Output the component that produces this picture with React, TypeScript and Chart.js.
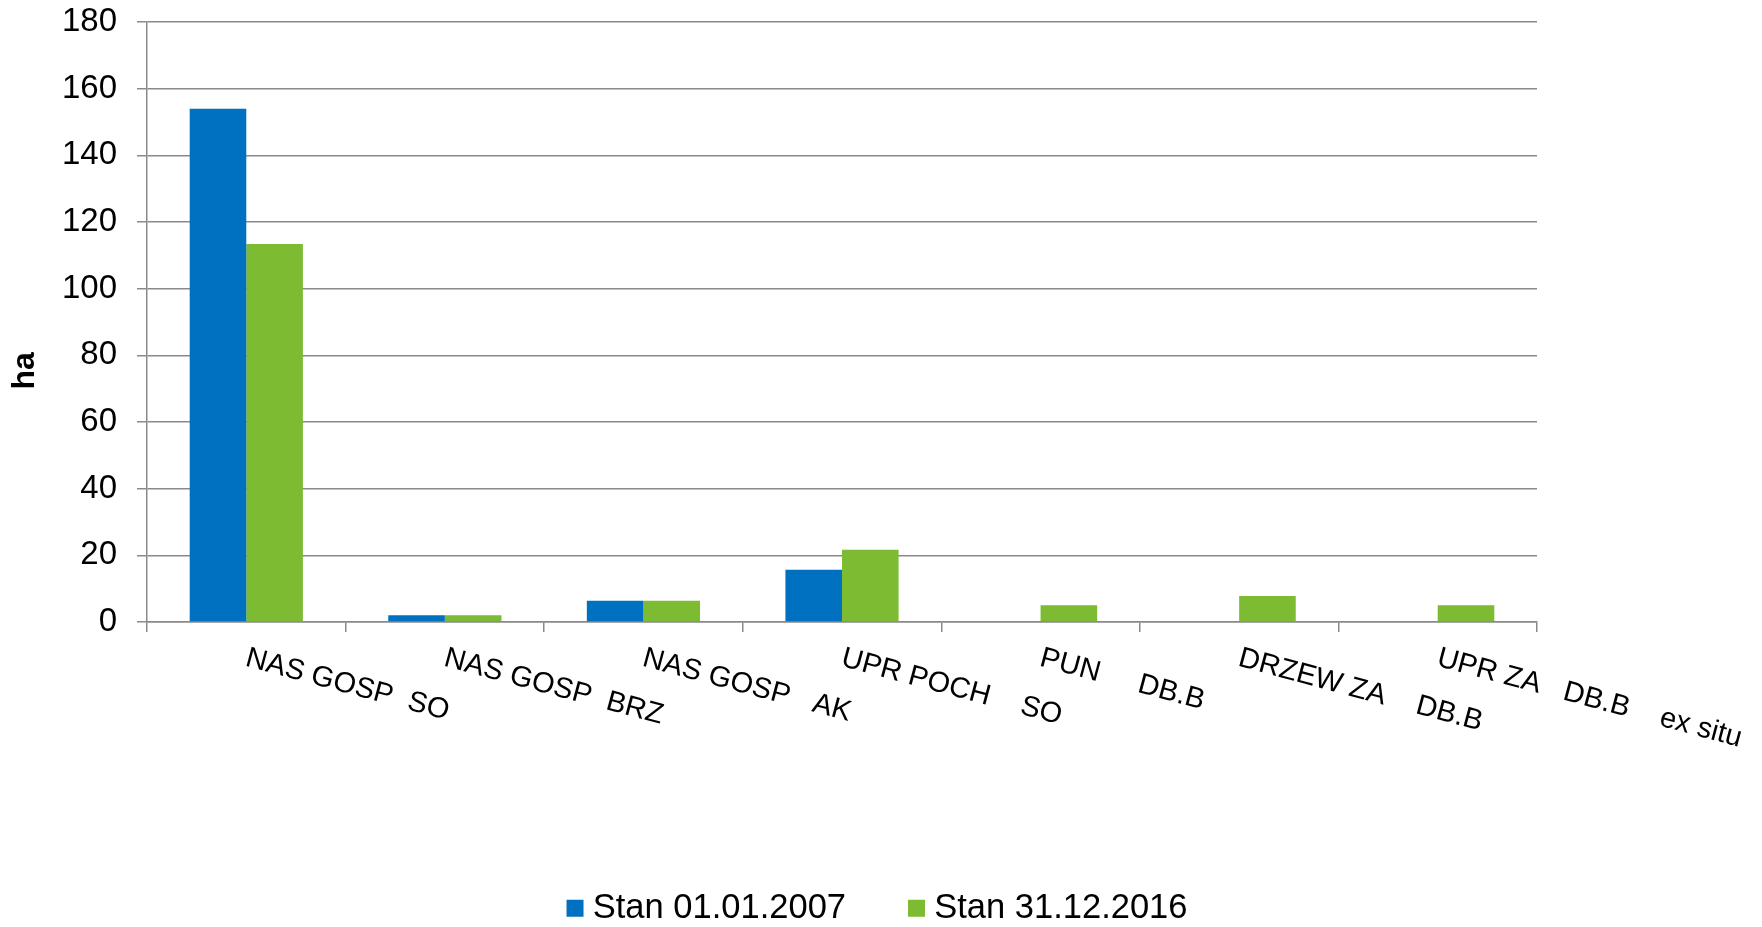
import React, { useEffect, useRef } from 'react';
import { Chart, CategoryScale, registerables } from 'chart.js';

// ---- data ----
const categories: string[] = [
  'NAS GOSP  SO',
  'NAS GOSP  BRZ',
  'NAS GOSP   AK',
  'UPR POCH    SO',
  'PUN     DB.B',
  'DRZEW ZA    DB.B',
  'UPR ZA   DB.B    ex situ',
];
const values2007: number[] = [154, 2, 6.4, 15.7, 0, 0, 0];
const values2016: number[] = [113.4, 2, 6.4, 21.7, 5, 7.8, 5];
const seriesNames: string[] = ['Stan 01.01.2007', 'Stan 31.12.2016'];
const yMin = 0;
const yMax = 180;
const yStep = 20;
const yTitle = 'ha';

// ---- styles ----
const BLUE = '#0070c0';
const GREEN = '#7dbb32';
const GRID = '#8a8a8a';
const FONT = '"Liberation Sans", Arial, sans-serif';

class SlantCategoryScale extends (CategoryScale as any) {
  static id = 'slantCategory';
  static defaults = (CategoryScale as any).defaults;
  _getXAxisLabelAlignment() {
    return 'left';
  }
}

Chart.register(...registerables, SlantCategoryScale as any);

export default function App() {
  const ref = useRef<HTMLCanvasElement | null>(null);

  useEffect(() => {
    if (!ref.current) return;
    const chart = new Chart(ref.current, {
      type: 'bar',
      data: {
        labels: categories,
        datasets: [
          { label: seriesNames[0], data: values2007, backgroundColor: BLUE, borderWidth: 0 },
          { label: seriesNames[1], data: values2016, backgroundColor: GREEN, borderWidth: 0 },
        ],
      },
      options: {
        animation: false,
        responsive: false,
        maintainAspectRatio: false,
        datasets: { bar: { categoryPercentage: 0.57, barPercentage: 1.0 } },
        layout: { padding: { top: 22, left: 0, right: 0, bottom: 0 } },
        plugins: {
          tooltip: { enabled: false },
          legend: {
            position: 'bottom',
            maxHeight: 106,
            labels: {
              usePointStyle: true,
              pointStyle: 'rect',
              boxWidth: 1,
              boxHeight: 17,
              padding: 70,
              color: '#000',
              font: { family: FONT, size: 34.5 },
            },
          },
        },
        scales: {
          x: {
            type: 'slantCategory' as any,
            position: 'bottom',
            offset: true,
            grid: {
              display: true,
              offset: true,
              drawOnChartArea: false,
              drawTicks: true,
              tickLength: 10,
              color: GRID,
              lineWidth: 1.5,
            },
            border: { display: true, color: GRID, width: 1.5 },
            ticks: {
              autoSkip: false,
              minRotation: -15,
              maxRotation: -15,
              padding: 9,
              color: '#000',
              font: { family: FONT, size: 29 },
            },
            afterFit: (s: any) => {
              s.height = 199;
              s.paddingLeft = 0;
              s.paddingRight = 0;
              s.paddingTop = 0;
              s.paddingBottom = 0;
            },
          } as any,
          y: {
            type: 'linear',
            position: 'left',
            min: yMin,
            max: yMax,
            grid: {
              color: GRID,
              lineWidth: 1.5,
              drawTicks: true,
              tickLength: 10,
            },
            border: { display: true, color: GRID, width: 1.5 },
            ticks: {
              stepSize: yStep,
              padding: 20,
              color: '#000',
              font: { family: FONT, size: 33 },
            },
            title: {
              display: true,
              text: yTitle + '           ',
              color: '#000',
              font: { family: FONT, size: 32, weight: 'bold' },
              padding: { top: 6, bottom: 0 },
            },
            afterFit: (s: any) => {
              s.width = 147;
              s.paddingLeft = 0;
              s.paddingRight = 0;
              s.paddingTop = 0;
              s.paddingBottom = 0;
            },
          },
          yRight: {
            type: 'linear',
            position: 'right',
            display: true,
            grid: { display: false },
            border: { display: false },
            ticks: { display: false },
            afterFit: (s: any) => {
              s.width = 225;
              s.paddingTop = 0;
              s.paddingBottom = 0;
            },
          } as any,
        },
      },
    });
    return () => chart.destroy();
  }, []);

  return (
    <div style={{ position: 'fixed', left: 0, top: 0, width: 1762, height: 927, background: '#fff' }}>
      <canvas ref={ref} width={1762} height={927} style={{ display: 'block', width: 1762, height: 927 }} />
    </div>
  );
}
